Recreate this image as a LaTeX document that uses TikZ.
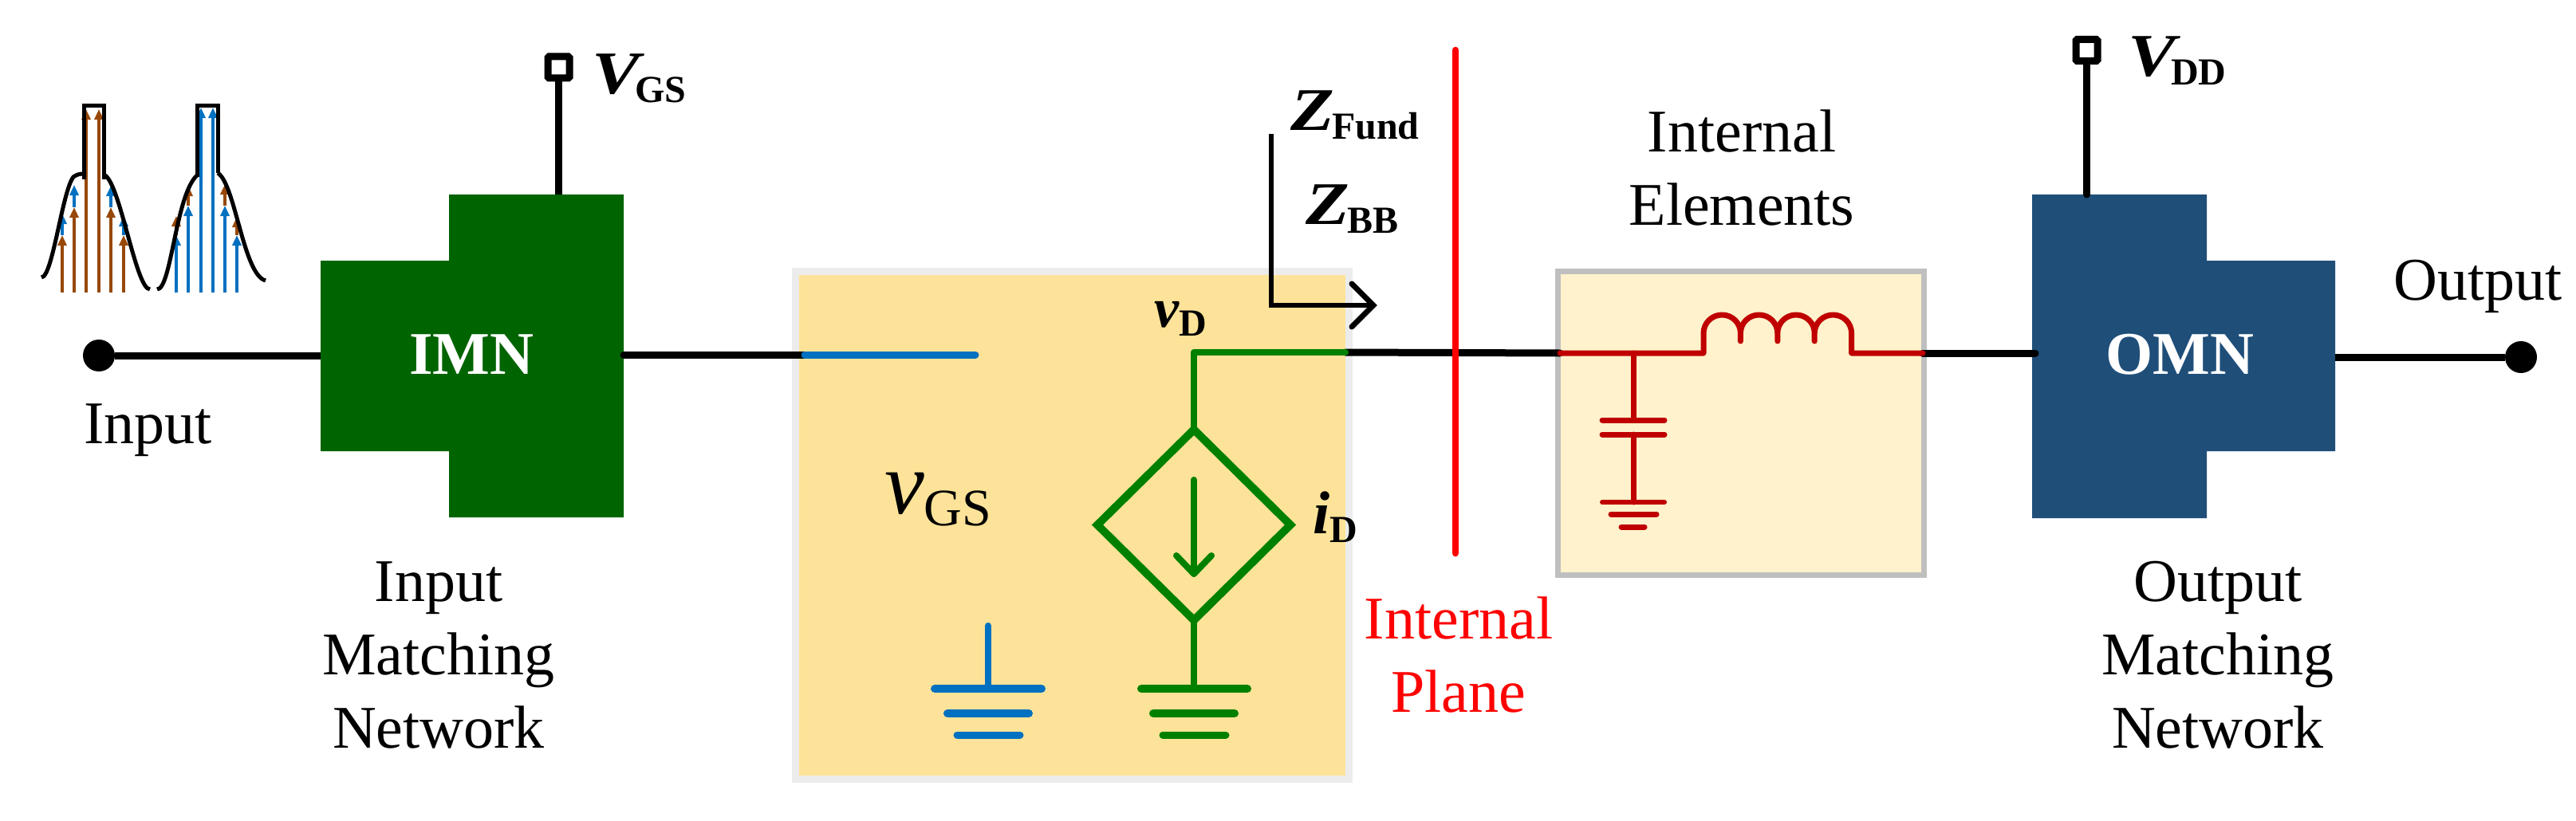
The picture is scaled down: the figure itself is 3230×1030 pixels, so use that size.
\documentclass[tikz,border=0pt]{standalone}
\usepackage{fontspec}
\usepackage{graphicx}
\usetikzlibrary{arrows.meta}
\setmainfont{Liberation Serif}
\definecolor{imng}{HTML}{006400}
\definecolor{omnb}{HTML}{1F4E79}
\definecolor{yel}{HTML}{FDE399}
\definecolor{pale}{HTML}{FFF2CC}
\definecolor{bl}{HTML}{0070C0}
\definecolor{br}{HTML}{984806}
\definecolor{gr}{HTML}{008000}
\definecolor{dr}{HTML}{C00000}
\definecolor{lgrey}{HTML}{ECECEC}
\definecolor{mgrey}{HTML}{BFBFBF}
\newcommand{\tsub}[2]{#1{\fontsize{48}{48}\selectfont\upshape\raisebox{-11pt}{#2}}}
\newcommand{\wsub}[3]{\scalebox{1.18}[1]{#1}\hspace{#3}{\fontsize{48}{48}\selectfont\upshape\raisebox{-11pt}{#2}}}
\tikzset{
 lab/.style={font=\fontsize{76}{92}\selectfont,inner sep=0pt,align=center},
 blab/.style={font=\fontsize{76}{76}\selectfont\bfseries\itshape,inner sep=0pt,anchor=base west},
 wire/.style={line width=9pt,black},
 gline/.style={line width=8pt,gr,line cap=round,line join=round},
 bline/.style={line width=8pt,bl,line cap=round},
 rline/.style={line width=7pt,dr,line cap=round,line join=round},
 pad/.style={circle,fill=black,minimum size=40pt,inner sep=0pt},
 term/.style={draw=black,line width=9pt,fill=white,minimum size=27pt,inner sep=0pt,rounded corners=1.5pt},
 curve/.style={line width=5pt,black,line join=miter},
 tipA/.style={line width=3.3pt,-{Triangle[length=13pt,width=11pt]}},
 mnlab/.style={font=\fontsize{76}{76}\selectfont\bfseries,text=white,inner sep=0pt,anchor=base},
}
\begin{document}
\begin{tikzpicture}[x=1pt,y=-1pt]
\useasboundingbox (0,0) rectangle (3230,1030);
% amplifier boxes
\node[draw=lgrey,fill=yel,line width=9pt,minimum width=694pt,minimum height=637pt,inner sep=0pt] (core) at (1344.5,659) {};
\node[draw=mgrey,fill=pale,line width=7pt,minimum width=459pt,minimum height=381pt,inner sep=0pt] (elem) at (2183,530.5) {};
% matching networks
\fill[imng] (402,327) -- (563,327) -- (563,244) -- (782,244) -- (782,649) -- (563,649) -- (563,566) -- (402,566) -- cycle;
\fill[omnb] (2548,244) -- (2767,244) -- (2767,327) -- (2928,327) -- (2928,566) -- (2767,566) -- (2767,650) -- (2548,650) -- cycle;
\node[mnlab] (imn) at (591.5,469) {IMN};
\node[mnlab] (omn) at (2733,469) {OMN};
% terminals and wires
\node[pad] (in) at (124,446) {};
\node[pad] (out) at (3161,448) {};
\node[term] (vg) at (700.5,84.5) {};
\node[term] (vd) at (2616.5,63) {};
\coordinate (imnL) at (402,446);\coordinate (imnR) at (782,445);
\coordinate (omnL) at (2552,443);\coordinate (omnR) at (2928,448);
\coordinate (gin) at (1009,445);\coordinate (dout) at (1687,442);
\coordinate (ein) at (1956,443);\coordinate (eout) at (2411,443);
\draw[wire] (in) -- (imnL);
\draw[wire,line cap=round] (imnR) -- (gin);
\draw[wire,line cap=round] (dout) -- (ein);
\draw[wire,line cap=round] (eout) -- (omnL);
\draw[wire] (omnR) -- (out);
\draw[wire] (vg) -- (700.5,244);
\draw[wire,line cap=round] (vd) -- (2616.5,244);
% blue gate side
\draw[bline,line width=9pt] (gin) -- (1223,445);
\draw[bline] (1239,785) -- (1239,864);
\draw[bline,line width=10pt] (1172,864) -- (1306,864);
\draw[bline,line width=10pt] (1188,895) -- (1290,895);
\draw[bline,line width=9pt] (1200,922) -- (1279,922);
% green drain side
\draw[gline] (dout) -- (1497,442) -- (1497,539);
\draw[gline,line width=10pt,line join=miter] (1497,539) -- (1618,658.5) -- (1497,778) -- (1376,658.5) -- cycle;
\draw[gline] (1497,602) -- (1497,720);
\draw[gline] (1475,697) -- (1497,720) -- (1519,697);
\draw[gline] (1497,778) -- (1497,864);
\draw[gline,line width=10pt] (1431,864) -- (1564,864);
\draw[gline,line width=10pt] (1446,895) -- (1548,895);
\draw[gline,line width=9pt] (1458,922) -- (1537,922);
% red plane
\draw[red,line width=8.7pt,line cap=round] (1825,63) -- (1825,694);
% internal elements
\draw[rline] (ein) -- (2136,443) -- (2136,418) arc[start angle=180,end angle=0,x radius=23.2pt,y radius=23pt] -- ++(0,10)
 ++(0,-10) arc[start angle=180,end angle=0,x radius=23.2pt,y radius=23pt] -- ++(0,10)
 ++(0,-10) arc[start angle=180,end angle=0,x radius=23.2pt,y radius=23pt] -- ++(0,10)
 ++(0,-10) arc[start angle=180,end angle=0,x radius=23.2pt,y radius=23pt] -- (2321.6,443) -- (eout);
\draw[rline] (2048.5,443) -- (2048.5,527);
\draw[rline] (2009,527) -- (2087,527);
\draw[rline] (2009,545) -- (2087,545);
\draw[rline] (2048.5,545) -- (2048.5,630);
\draw[rline,line width=6pt] (2009,630) -- (2087,630);
\draw[rline] (2020,645) -- (2077,645);
\draw[rline] (2033,661) -- (2062,661);
% impedance arrow
\draw[line width=6pt,black,line join=miter] (1594,168) -- (1594,383) -- (1722,383);
\draw[line width=7pt,black,line cap=round,line join=miter] (1695,356) -- (1722,383) -- (1695,410);
% spectra
\foreach \x/\t/\e in {78/295/268,93/260/232,139/260/233,155/295/271}{
 \draw[tipA,bl] (\x,\t) -- (\x,\e);
 \draw[tipA,br] (\x,367) -- (\x,\t);}
\foreach \x in {108,124}{\draw[tipA,br] (\x,367) -- (\x,137);}
\foreach \x/\t/\e in {221/295/271,236/258/233,282/258/231,297/295/272}{
 \draw[tipA,br] (\x,\t) -- (\x,\e);
 \draw[tipA,bl] (\x,367) -- (\x,\t);}
\foreach \x in {252,267}{\draw[tipA,bl] (\x,367) -- (\x,135);}
\draw[curve] (52,348) .. controls (66,348) and (78,240) .. (92,222) .. controls (96,219) and (100,218) .. (105,218);
\draw[curve] (105,225) -- (105,133) -- (130,133) -- (130,225);
\draw[curve] (130,219) .. controls (150,225) and (170,363) .. (188,363);
\draw[curve] (197,363) .. controls (215,363) and (220,245) .. (247,220);
\draw[curve] (247,222) -- (247,133) -- (273,133) -- (273,217);
\draw[curve] (273,217) .. controls (295,230) and (305,345) .. (333,352);
% labels
\node[lab,anchor=base] (l1) at (185.5,556) {Input};
\node[lab,anchor=base] (l2) at (550,938) {Input\\Matching\\Network};
\node[lab,anchor=base] (l3) at (3107.5,376) {Output};
\node[lab,anchor=base] (l4) at (2781,938) {Output\\Matching\\Network};
\node[lab,anchor=base] (l5) at (2184,282) {Internal\\Elements};
\node[lab,anchor=base,text=red] (l6) at (1829,893) {Internal\\Plane};
\node[blab] (l7) at (742,117.5) {\wsub{V}{GS}{-6pt}};
\node[blab] (l8) at (2668,95.5) {\wsub{V}{DD}{-6pt}};
\node[blab] (l9) at (1618,163) {\wsub{Z}{Fund}{-3pt}};
\node[blab] (l10) at (1637,281) {\wsub{Z}{BB}{-3pt}};
\node[blab,font=\fontsize{70}{70}\selectfont\bfseries\itshape] (l11) at (1447,410.5) {\tsub{v}{D}};
\node[blab] (l12) at (1646,669) {\tsub{i}{D}};
\node[font=\fontsize{112}{112}\selectfont\itshape,inner sep=0pt,anchor=base west] (l13) at (1109,644) {v{\fontsize{66}{66}\selectfont\upshape\raisebox{-15pt}{GS}}};
\end{tikzpicture}
\end{document}
